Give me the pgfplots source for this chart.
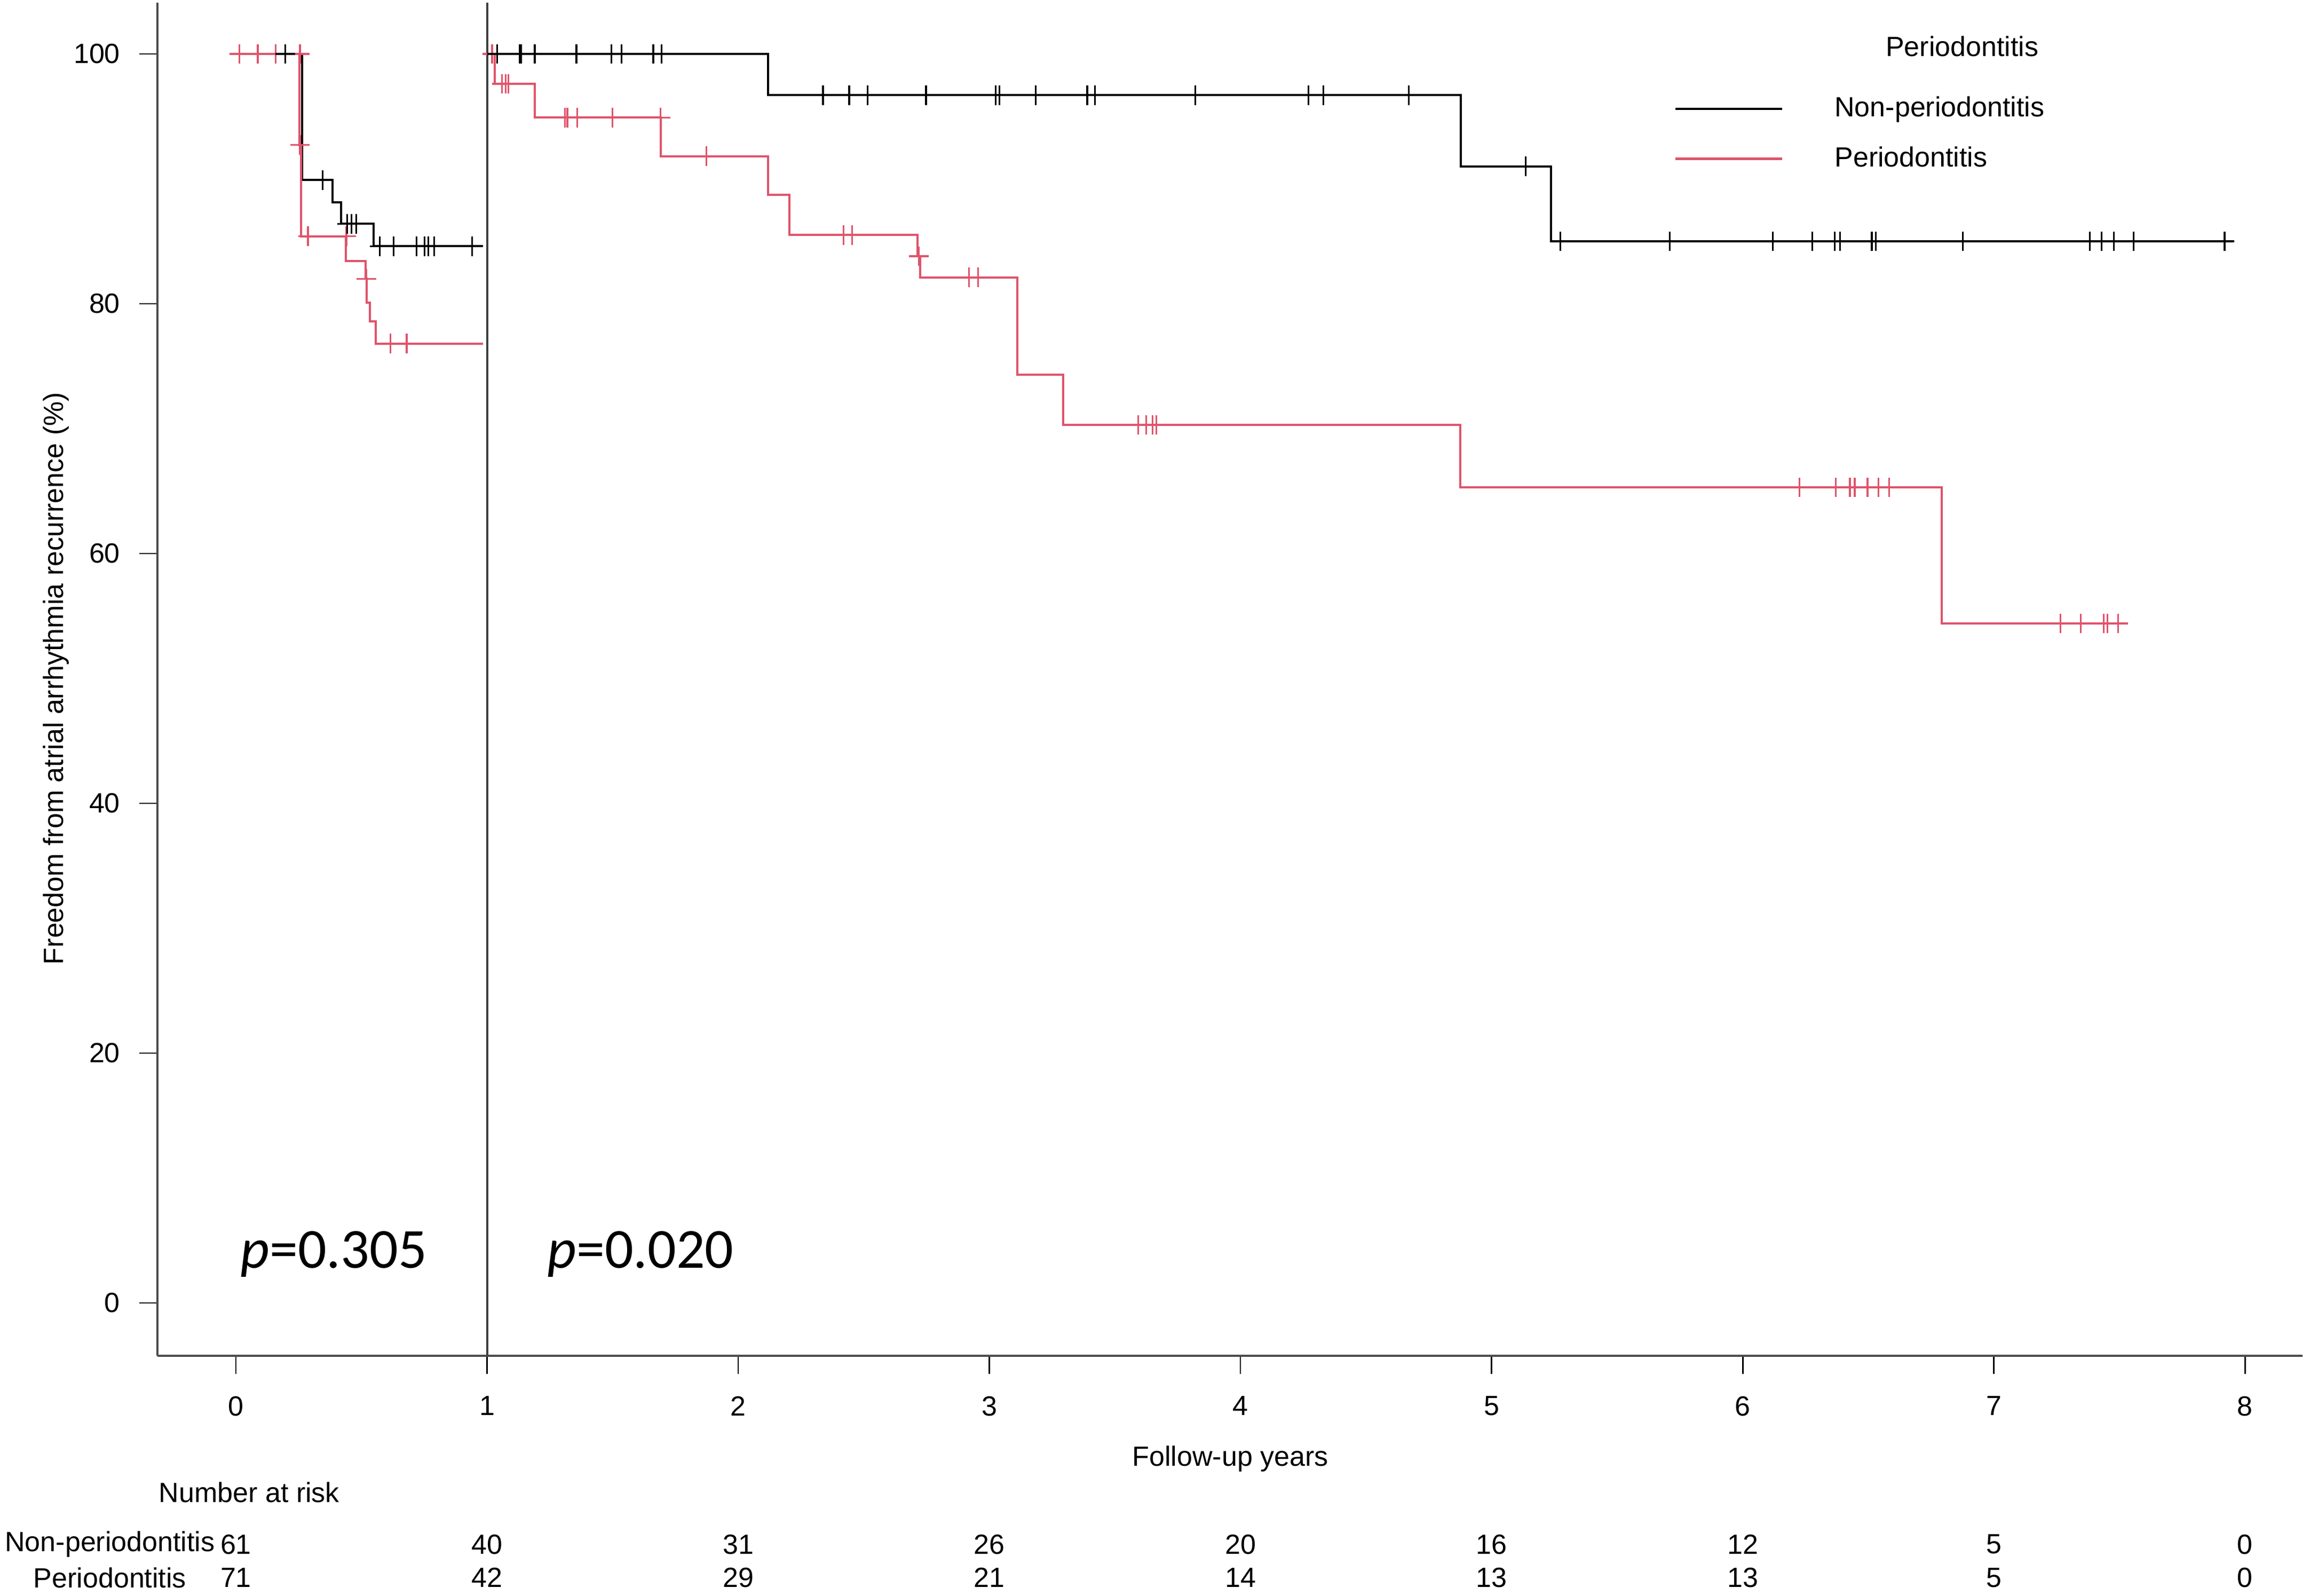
\documentclass[border=0pt]{standalone}
\usepackage{fontspec}
\setmainfont{Liberation Sans}
\newfontfamily\carlito{Carlito}
\usepackage{pgfplots}
\pgfplotsset{compat=1.18}
\definecolor{kmred}{HTML}{DF536B}
\begin{document}
\fontsize{13}{15.6}\selectfont
\begin{tikzpicture}
\begin{axis}[
  at={(0,0)}, anchor=south west,
  scale only axis, width=1004.75pt, height=633.75pt,
  xmin=-0.3124, xmax=8.2295, ymin=-4.23, ymax=104.1,
  axis x line*=bottom, axis y line*=left,
  axis line style={line width=1.2pt, black!70, -},
  xtick={0,1,2,3,4,5,6,7,8}, ytick={0,20,40,60,80,100},
  tick align=outside, major tick length=8.5pt,
  major tick style={line width=0.7pt, black},
  /pgf/number format/assume math mode=true,
  tick label style={font=\fontsize{13}{15.6}\selectfont},
  xticklabel style={yshift=-6pt},
  yticklabel style={xshift=-4.5pt},
  clip=false,
  legend style={at={(axis cs:5.726,96.6)}, anchor=north west, draw=none, fill=none,
    inner sep=0pt, row sep=12pt, font=\fontsize{13}{15.6}\selectfont,
    nodes={inner sep=0pt},
    /tikz/every odd column/.append style={column sep=24pt}},
  legend cell align=left,
  legend image code/.code={\draw[#1] (0pt,0pt) -- (50pt,0pt);},
]
% landmark line at 1 year
\addplot[black!75, line width=1pt, forget plot] coordinates {(1,-4.23) (1,104.1)};

% ---- first year ----
\addplot[black, line width=1pt, const plot, forget plot] coordinates {
(0,100) (0.263,89.9) (0.385,88.1) (0.418,86.4) (0.548,84.6) (0.984,84.6)};
\addplot[kmred, line width=1pt, const plot, forget plot] coordinates {
(0,100) (0.252,92.7) (0.260,85.4) (0.4385,83.4) (0.517,82.0) (0.520,80.1) (0.533,78.6) (0.557,76.8) (0.984,76.8)};

% ---- after one year ----
\addplot[black, line width=1pt, const plot, forget plot] coordinates {
(1,100) (2.119,96.7) (4.878,91.0) (5.237,85.0) (7.92,85.0)};
\addplot[kmred, line width=1pt, const plot, forget plot] coordinates {
(1,100) (1.03,97.6) (1.19,94.9) (1.692,91.8) (2.119,88.7) (2.203,85.5) (2.715,83.8) (2.725,82.1) (3.111,74.3) (3.294,70.3) (4.875,65.3) (6.793,54.4) (7.532,54.4)};

% ---- censor marks ----
\addplot[kmred, only marks, mark=+, mark size=4.6pt, mark options={line width=0.8pt}, forget plot] coordinates {
(0.013,100) (0.087,100) (0.159,100) (0.255,100) (0.255,92.7) (0.287,85.4) (0.44,85.4)
(0.52,82.0) (0.616,76.8) (0.680,76.8)
(1.02,100) (1.06,97.6) (1.075,97.6) (1.085,97.6)
(1.31,94.9) (1.32,94.9) (1.36,94.9) (1.50,94.9) (1.69,94.9)
(1.873,91.8) (2.42,85.5) (2.454,85.5) (2.72,83.8) (2.919,82.1) (2.956,82.1)
(3.592,70.3) (3.624,70.3) (3.650,70.3) (3.665,70.3)
(6.226,65.3) (6.370,65.3) (6.427,65.3) (6.446,65.3) (6.497,65.3) (6.541,65.3) (6.583,65.3)
(7.266,54.4) (7.346,54.4) (7.437,54.4) (7.452,54.4) (7.494,54.4)};
\addplot[black, only marks, mark=+, mark size=4.6pt, mark options={line width=0.8pt}, forget plot] coordinates {
(0.197,100) (0.346,89.9) (0.443,86.4) (0.460,86.4) (0.479,86.4)
(0.572,84.6) (0.628,84.6) (0.719,84.6) (0.752,84.6) (0.766,84.6) (0.790,84.6) (0.941,84.6)
(1.04,100) (1.13,100) (1.135,100) (1.19,100) (1.356,100) (1.496,100) (1.535,100) (1.662,100) (1.695,100)
(2.338,96.7) (2.442,96.7) (2.516,96.7) (2.748,96.7) (3.025,96.7) (3.04,96.7) (3.185,96.7)
(3.39,96.7) (3.42,96.7) (3.82,96.7) (4.27,96.7) (4.33,96.7) (4.67,96.7)
(5.135,91.0)
(5.274,85.0) (5.709,85.0) (6.119,85.0) (6.277,85.0) (6.366,85.0) (6.388,85.0) (6.514,85.0)
(6.530,85.0) (6.877,85.0) (7.382,85.0) (7.429,85.0) (7.477,85.0) (7.556,85.0) (7.919,85.0)};

% ---- legend ----
\addlegendimage{black, line width=1.1pt}
\addlegendentry{Non-periodontitis}
\addlegendimage{kmred, line width=1.1pt}
\addlegendentry{Periodontitis}
\node at (axis cs:6.874,100.6) {Periodontitis};

% ---- labels ----
\node[rotate=90] at (axis cs:-0.716,50) {Freedom from atrial arrhythmia recurrence (\%)};
\node at (axis cs:3.96,-12.48) {Follow-up years};
\node[anchor=west, inner sep=0pt] at (axis cs:-0.308,-15.17) {Number at risk};

% ---- p values ----
\node[anchor=base west, inner sep=0pt, font=\carlito\fontsize{26.5}{30}\selectfont] at (axis cs:0.017,2.82) {\textit{p}=0.305};
\node[anchor=base west, inner sep=0pt, font=\carlito\fontsize{26.5}{30}\selectfont] at (axis cs:1.239,2.82) {\textit{p}=0.020};

% ---- number at risk ----
\node at (axis cs:-0.5016,-19.32) {Non-periodontitis};
\node at (axis cs:-0.5016,-22.0) {Periodontitis};
\node at (axis cs:0,-19.32) {61}; \node at (axis cs:0,-22.0) {71};
\node at (axis cs:1,-19.32) {40}; \node at (axis cs:1,-22.0) {42};
\node at (axis cs:2,-19.32) {31}; \node at (axis cs:2,-22.0) {29};
\node at (axis cs:3,-19.32) {26}; \node at (axis cs:3,-22.0) {21};
\node at (axis cs:4,-19.32) {20}; \node at (axis cs:4,-22.0) {14};
\node at (axis cs:5,-19.32) {16}; \node at (axis cs:5,-22.0) {13};
\node at (axis cs:6,-19.32) {12}; \node at (axis cs:6,-22.0) {13};
\node at (axis cs:7,-19.32) {5};  \node at (axis cs:7,-22.0) {5};
\node at (axis cs:8,-19.32) {0};  \node at (axis cs:8,-22.0) {0};
\end{axis}
\pgfresetboundingbox
\useasboundingbox (-73.75pt,-112.25pt) rectangle (1008.25pt,635pt);
\end{tikzpicture}
\end{document}
